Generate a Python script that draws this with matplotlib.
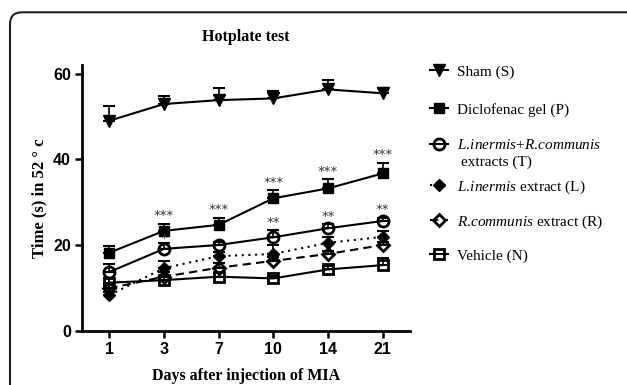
import matplotlib
matplotlib.use("Agg")
import matplotlib.pyplot as plt
import numpy as np
from matplotlib.path import Path
from matplotlib.patches import PathPatch
from matplotlib.transforms import Affine2D

plt.rcParams['mathtext.fontset'] = 'custom'
plt.rcParams['mathtext.rm'] = 'Liberation Serif'
plt.rcParams['mathtext.it'] = 'Liberation Serif:italic'

days = ["1", "3", "7", "10", "14", "21"]

sham = [49.0, 52.9, 53.8, 54.2, 56.3, 55.4]
sham_err = [3.5, 1.9, 2.8, 1.8, 2.1, 1.3]
diclo = [18.2, 23.3, 24.7, 30.9, 33.2, 36.7]
diclo_err = [1.6, 1.7, 1.7, 1.9, 2.1, 2.5]
combo = [13.7, 19.1, 20.0, 21.8, 23.9, 25.6]
combo_err = [1.8, 1.4, 0.8, 1.7, 1.0, 0.8]
lin = [8.3, 14.6, 17.4, 17.9, 20.5, 21.9]
lin_err = [0.8, 1.6, 1.0, 2.1, 1.4, 1.4]
rcom = [9.9, 12.6, 14.7, 16.3, 17.9, 20.0]
rcom_err = [0.8, 1.0, 1.0, 1.0, 0.8, 0.8]
veh = [11.2, 11.8, 12.6, 12.2, 14.3, 15.3]
veh_err = [1.0, 0.8, 0.8, 0.6, 0.8, 1.6]

diclo_sig = ["", "***", "***", "***", "***", "***"]
combo_sig = ["", "*", "", "**", "**", "**"]

labels = ["Sham (S)", "Diclofenac gel (P)",
          r"$\it{L.\!inermis}$+$\it{R.\!communis}$",
          r"$\it{L.\!inermis}$ extract (L)",
          r"$\it{R.\!communis}$ extract (R)",
          "Vehicle (N)"]
label_extra = "extracts (T)"

W, H = 627, 385
fig = plt.figure(figsize=(W/100, H/100), dpi=100)
ax = fig.add_axes([82/W, 1-330.7/H, (410-82)/W, (330.7-65)/H])

x = np.arange(len(days))
series = [
    (sham, sham_err, dict(marker='v', ms=8.5, mfc='black', ls='-')),
    (diclo, diclo_err, dict(marker='s', ms=7, mfc='black', ls='-')),
    (combo, combo_err, dict(marker='o', ms=8, mfc='none', mew=2, ls='-')),
    (lin, lin_err, dict(marker='D', ms=6.5, mfc='black', ls=(0, (1, 2.2)))),
    (rcom, rcom_err, dict(marker='D', ms=6.5, mfc='none', mew=2, ls=(0, (4, 2.5)))),
    (veh, veh_err, dict(marker='s', ms=7.5, mfc='none', mew=2, ls='-')),
]
handles = []
for vals, err, st in series:
    vals = np.array(vals); err = np.array(err)
    ax.errorbar(x, vals, yerr=[np.zeros_like(err), err], fmt='none',
                ecolor='black', elinewidth=1.2, capsize=4, capthick=1.5, zorder=2)
    ln, = ax.plot(x, vals, color='black', mec='black', lw=1.5, zorder=3, **st)
    handles.append(ln)

star_kw = dict(ha='center', va='bottom', fontsize=9.5, family='DejaVu Sans', color='#333333')
for xi, v, e, s in zip(x, diclo, diclo_err, diclo_sig):
    if s:
        ax.text(xi, v + e + 0.3, s, **star_kw)
for xi, v, e, s in zip(x, combo, combo_err, combo_sig):
    if s == "*":
        ax.text(xi, v + e - 0.6, s, **star_kw)
    elif s:
        ax.text(xi, v + e + 0.3, s, **star_kw)

ax.set_xlim(-0.5, 5.5)
ax.set_ylim(0, 62)
ax.set_xticks(x)
ax.set_xticklabels(days)
ax.set_yticks([0, 20, 40, 60])
for lab in ax.get_xticklabels() + ax.get_yticklabels():
    lab.set_family('Liberation Sans')
    lab.set_fontweight('bold')
    lab.set_fontsize(11.5)
ax.tick_params(direction='out', length=5, width=1.8, pad=3)
for s in ['top', 'right']:
    ax.spines[s].set_visible(False)
for s in ['left', 'bottom']:
    ax.spines[s].set_linewidth(2)

ax.set_xlabel("Days after injection of MIA", family='Liberation Serif',
              fontweight='bold', fontsize=11.5, labelpad=8)
ax.set_ylabel("Time (s) in 52 ° c", family='Liberation Serif',
              fontweight='bold', fontsize=12, labelpad=4)
fig.text(246/W, 1-37/H, "Hotplate test", family='Liberation Serif',
         fontweight='bold', fontsize=11.5, ha='center', va='center')

leg_y = [72, 110, 145, 187, 222, 256]
fp = {'family': 'Liberation Serif', 'size': 11}
for h, lab, yy in zip(handles, labels, leg_y):
    lg = fig.legend([h], [lab], loc='center left', bbox_to_anchor=(430/W, 1-yy/H),
                    frameon=False, prop=fp, handlelength=1.2, handletextpad=0.6,
                    borderpad=0, borderaxespad=0)
fig.text(461/W, 1-162/H, label_extra, family='Liberation Serif', fontsize=11,
         ha='left', va='center')

# rounded panel border (top and left edges)
r = 12
top = H - 12.3
left = 10
verts = [(left, -10), (left, top - r), (left, top), (left + r, top), (W + 20, top)]
codes = [Path.MOVETO, Path.LINETO, Path.CURVE3, Path.CURVE3, Path.LINETO]
tr = Affine2D().scale(1/W, 1/H) + fig.transFigure
patch = PathPatch(Path(verts, codes), fill=False, lw=1.5, edgecolor='#222222',
                  transform=tr, clip_on=False)
fig.add_artist(patch)

fig.savefig("out.png", dpi=100)
